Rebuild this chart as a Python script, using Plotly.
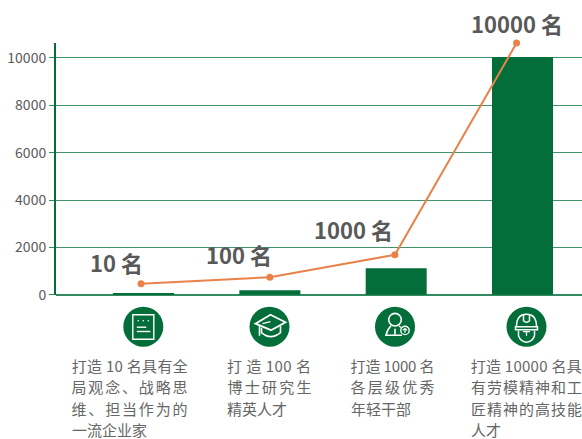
import json
import plotly.graph_objects as go

W, H = 582, 439
ML, MR, MT, MB = 56, 0, 43, 144

bar_x = [0, 1, 2, 3]
bar_values = [50, 190, 1120, 10040]
line_x = [-0.02, 1.0, 1.99, 2.953]
line_values = [465, 740, 1690, 10630]
point_labels = ["10 名", "100 名", "1000 名", "10000 名"]
y_ticks = [0, 2000, 4000, 6000, 8000, 10000]
captions = [
    ["打造 10 名具有全", "局观念、战略思", "维、担当作为的", "一流企业家"],
    ["打 造 100 名", "博士研究生", "精英人才"],
    ["打造 1000 名", "各层级优秀", "年轻干部"],
    ["打造 10000 名具", "有劳模精神和工", "匠精神的高技能", "人才"],
]
caption_widths = [
    [116, 116, 116, 75],
    [84, 84, 60],
    [84, 84, 60],
    [111, 111, 111, 30],
]

GREEN = "#036E39"
ORANGE = "#E8824A"
GREY = "#595959"
FONT = "Noto Sans CJK SC"


def px(x):
    return (x - ML) / (W - ML - MR)


def py(y):
    return 1 - (y - MT) / (H - MT - MB)


fig = go.Figure()
fig.add_bar(x=bar_x, y=bar_values, width=0.483, marker_color=GREEN, marker_line_width=0)
fig.add_scatter(x=line_x, y=line_values, mode="lines+markers",
                line=dict(color=ORANGE, width=2), marker=dict(color=ORANGE, size=7),
                cliponaxis=False)

label_pos = [(116, 262), (239, 254), (353, 229), (517, 23)]
for (lx, ly), t in zip(label_pos, point_labels):
    fig.add_annotation(x=px(lx), y=py(ly), xref="paper", yref="paper", text=t, showarrow=False,
                       xanchor="center", yanchor="middle",
                       font=dict(family=FONT, size=22, color=GREY, weight="bold"))

cap_x = [71.5, 227, 350.5, 470.5]
flat_widths = []
for cx, lines, widths in zip(cap_x, captions, caption_widths):
    for i, (t, w) in enumerate(zip(lines, widths)):
        flat_widths.append(w)
        fig.add_annotation(x=px(cx + w / 2), y=py(365.5 + 21.3 * i), xref="paper", yref="paper", text=t,
                           showarrow=False, xanchor="center", yanchor="middle",
                           font=dict(family=FONT, size=15, color="#666666"))

# ---- icon badges: white outline glyphs drawn as SVG paths on green discs
CY = 326.7


def path(cx, d, width=1.4, fill=None):
    out = []
    parts = d.split()
    i = 0
    while i < len(parts):
        p = parts[i]
        if p in "MLQCZ":
            out.append(p)
            i += 1
        else:
            out.append(f"{px(cx + float(parts[i])):.5f},{py(CY + float(parts[i + 1])):.5f}")
            i += 2
    return dict(type="path", xref="paper", yref="paper", path=" ".join(out),
                line=dict(color="white", width=width), fillcolor=fill or "rgba(0,0,0,0)")


def disc(cx, cy, r, fill="rgba(0,0,0,0)", lw=1.4, color="white"):
    return dict(type="circle", xref="paper", yref="paper", x0=px(cx - r), x1=px(cx + r),
                y0=py(cy + r), y1=py(cy - r), fillcolor=fill, line=dict(color=color, width=lw))


centers = [143.3, 269.5, 395, 526.5]
shapes = [disc(c, CY, 20, fill=GREEN, lw=0, color=GREEN) for c in centers]

c = centers[0]
shapes += [
    path(c, "M -10.5 -12 L 10.5 -12 L 10.5 12.5 L -10.5 12.5 Z"),
    path(c, "M -6.5 0.5 L 3 0.5"),
    path(c, "M -6.5 4.8 L 7 4.8"),
]
shapes += [disc(c + dx, CY - 6, 0.8, fill="white", lw=0) for dx in (-5, 0, 5)]

c = centers[1]
shapes += [
    path(c, "M 1 -12 L 16 -4.5 L 1.5 3.5 L -14 -3 Z", width=1.8),
    path(c, "M -8 1 L -8 6 Q 1 14 11 6 L 11 -0.5", width=1.6),
    path(c, "M -10 -1 L -10 9", width=1.6),
    path(c, "M -7 -3 L 1 -5", width=1.2),
]

c = centers[2]
shapes += [
    disc(c, CY - 7, 6.3, lw=1.6),
    path(c, "M -4 -1 Q -8 3 -9 8.5 L 7 8.5", width=1.6),
    path(c, "M 0 2 L 0 8", width=1.6),
    path(c, "M 4 -1 L 6 1", width=1.2),
    disc(c + 10, CY + 3.7, 4.2, lw=1.4),
    path(c + 10, "M 0 6 L 0 2 M -2 3.6 L 0 1.8 L 2 3.6", width=1.2),
]

c = centers[3]
shapes += [
    path(c, "M -10 0 Q -10 -12.5 0 -12.5 Q 10 -12.5 10 0", width=1.5),
    path(c, "M -11 0 L 11 0 L 11 3 L -11 3 Z", width=1.5),
    path(c, "M -3 -12 L -3 -6 Q 0 -3 3 -6 L 3 -12", width=1.5),
    path(c, "M -8 4 L -8 9 Q -6 15 0 15.5 Q 6 15 8 9 L 8 4", width=1.5),
    path(c, "M -3.5 5 L 3.5 5 M 0 5 L 0 9", width=1.3),
]

fig.update_layout(
    width=W, height=H, margin=dict(l=ML, r=MR, t=MT, b=MB, pad=0),
    paper_bgcolor="white", plot_bgcolor="white", showlegend=False, shapes=shapes,
    font=dict(family=FONT, color=GREY),
    xaxis=dict(range=[-0.693, 3.471], showticklabels=False, showgrid=False, zeroline=False,
               showline=False, ticks=""),
    yaxis=dict(range=[-10, 10630], tickvals=y_ticks, showgrid=True, gridcolor="rgba(3,110,57,0.75)",
               gridwidth=1, zeroline=True, zerolinecolor="rgba(3,110,57,0.8)", zerolinewidth=2,
               showline=True, linecolor=GREEN, linewidth=2, ticks="outside", ticklen=5,
               tickcolor="rgba(3,110,57,0.8)", tickfont=dict(family=FONT, size=14, color=GREY),
               tickformat="d"),
)

post = (
    "document.body.style.margin='0';document.body.style.overflow='hidden';"
    f"var w={json.dumps(flat_widths)},off={len(point_labels)};"
    "var t=document.querySelectorAll('.annotation-text');"
    "w.forEach(function(v,i){var e=t[i+off];if(e){e.setAttribute('textLength',v);"
    "e.setAttribute('lengthAdjust','spacing');}});"
)
fig.write_html("out.html", config={"displayModeBar": False}, post_script=post)
